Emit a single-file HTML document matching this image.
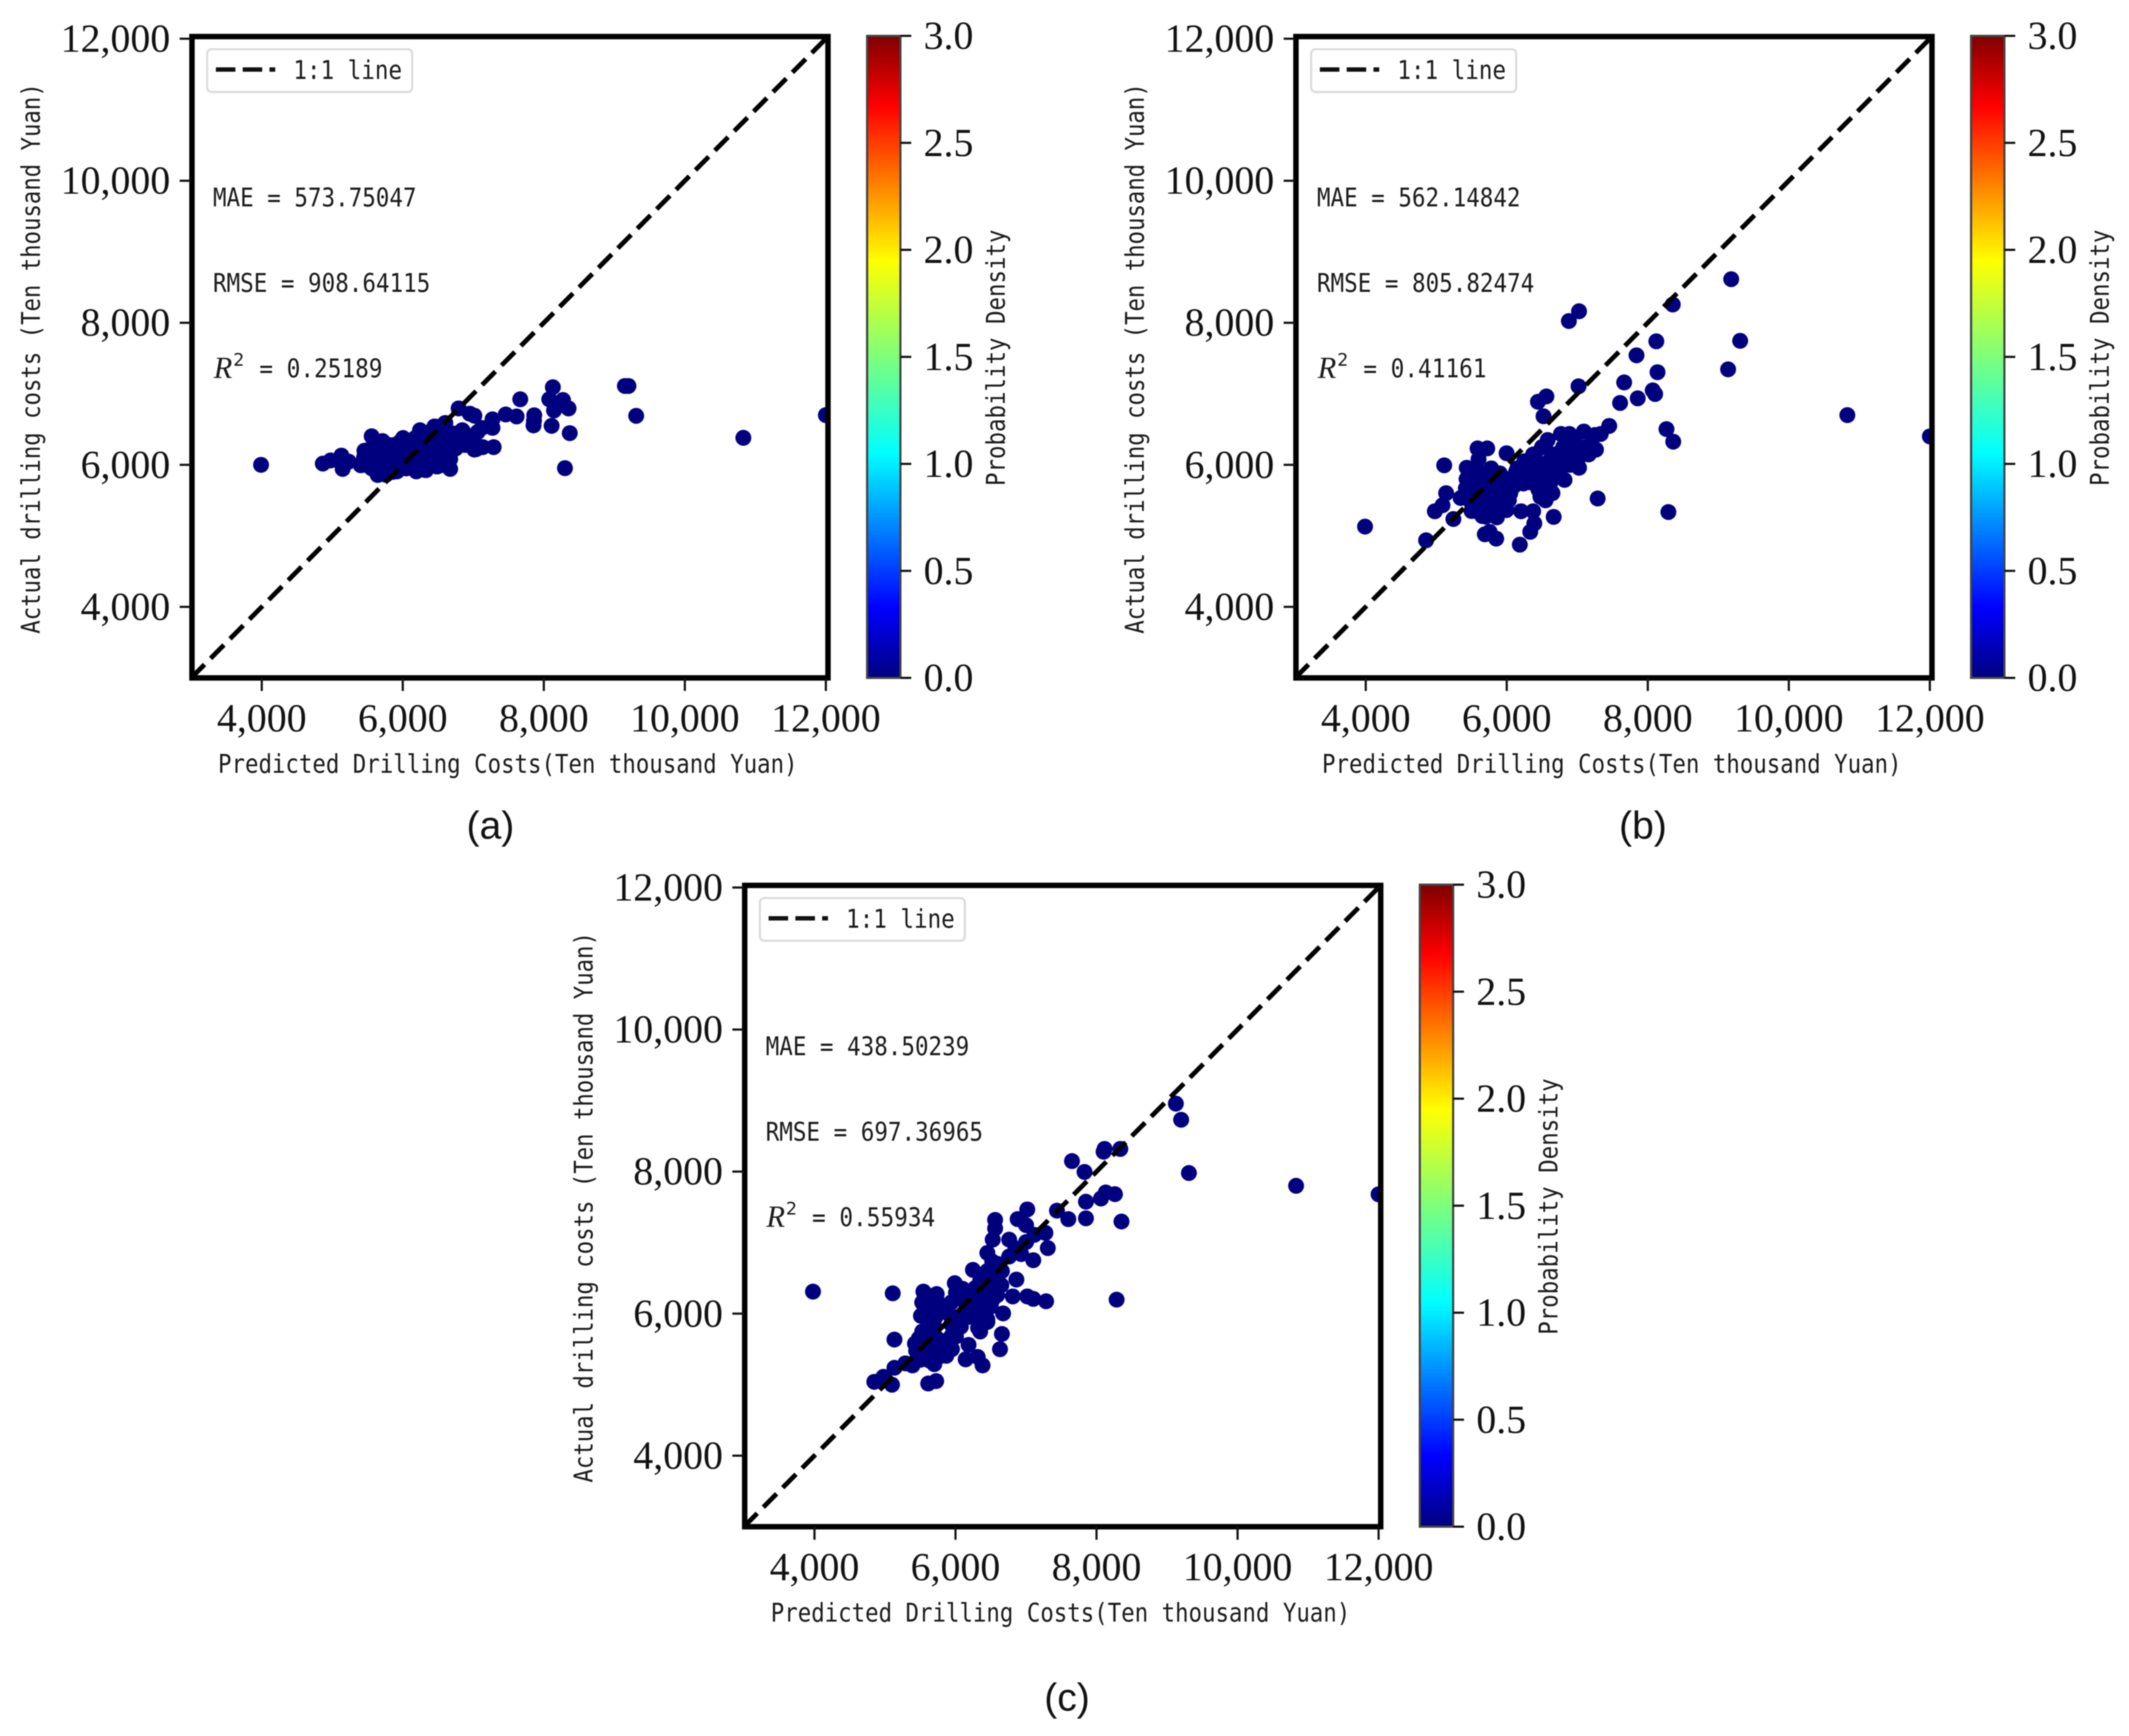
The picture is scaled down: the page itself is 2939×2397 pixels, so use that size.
<!DOCTYPE html>
<html lang="en">
<head>
<meta charset="utf-8">
<title>Predicted vs actual drilling costs</title>
<style>
html,body{margin:0;padding:0;background:#fff;}
svg{display:block;filter:blur(0.8px);}
.tick{font-family:"Liberation Serif",serif;font-size:55px;fill:#111;}
.lab{font-family:"DejaVu Sans Mono","Liberation Mono",monospace;font-size:36px;fill:#1a1a1a;}
.it{font-family:"Liberation Serif",serif;font-style:italic;font-size:42px;fill:#1a1a1a;}
.sup{font-family:"DejaVu Sans","Liberation Sans",sans-serif;font-size:24px;fill:#1a1a1a;}
.cap{font-family:"Liberation Sans",sans-serif;font-size:54px;fill:#111;}
</style>
</head>
<body>
<svg id="fig" xmlns="http://www.w3.org/2000/svg" width="2939" height="2397" viewBox="0 0 2939 2397">
<defs>
<linearGradient id="jet" x1="0" y1="1" x2="0" y2="0">
<stop offset="0" stop-color="#00007f"/><stop offset="0.11" stop-color="#0000ff"/><stop offset="0.35" stop-color="#00ffff"/><stop offset="0.5" stop-color="#7dff7a"/><stop offset="0.65" stop-color="#ffff00"/><stop offset="0.89" stop-color="#ff0000"/><stop offset="1" stop-color="#7f0000"/>
</linearGradient>
<clipPath id="plotClip"><rect x="264" y="50" width="879" height="886"/></clipPath>
</defs>
<rect x="0" y="0" width="2939" height="2397" fill="#fff"/>

<g id="panel-a" transform="translate(0,0)">
<g class="marks"></g>
<g class="ticks"></g>
<g><rect x="286" y="68" width="283" height="59" rx="6" fill="#fff" stroke="#dcdcdc" stroke-width="3"/><line x1="298" y1="96" x2="380" y2="96" stroke="#111" stroke-width="6" stroke-dasharray="27 10"/><text class="lab" x="405" y="109" textLength="150" lengthAdjust="spacingAndGlyphs">1:1 line</text></g>
<text class="lab" x="294" y="285" textLength="281" lengthAdjust="spacingAndGlyphs">MAE = 573.75047</text>
<text class="lab" x="294" y="403" textLength="300" lengthAdjust="spacingAndGlyphs">RMSE = 908.64115</text>
<text class="it" x="295" y="522">R</text><text class="sup" x="322" y="505">2</text><text class="lab" x="358" y="521" textLength="170" lengthAdjust="spacingAndGlyphs">= 0.25189</text>
<text class="lab" x="301" y="1067" textLength="800" lengthAdjust="spacingAndGlyphs">Predicted Drilling Costs(Ten thousand Yuan)</text>
<text class="lab" transform="translate(55,875) rotate(-90)" textLength="760" lengthAdjust="spacingAndGlyphs">Actual drilling costs (Ten thousand Yuan)</text>
<text class="lab" transform="translate(1387,671) rotate(-90)" textLength="354" lengthAdjust="spacingAndGlyphs">Probability Density</text>
</g>

<g id="panel-b" transform="translate(1524,0)">
<g class="marks"></g>
<g class="ticks"></g>
<g><rect x="286" y="68" width="283" height="59" rx="6" fill="#fff" stroke="#dcdcdc" stroke-width="3"/><line x1="298" y1="96" x2="380" y2="96" stroke="#111" stroke-width="6" stroke-dasharray="27 10"/><text class="lab" x="405" y="109" textLength="150" lengthAdjust="spacingAndGlyphs">1:1 line</text></g>
<text class="lab" x="294" y="285" textLength="281" lengthAdjust="spacingAndGlyphs">MAE = 562.14842</text>
<text class="lab" x="294" y="403" textLength="300" lengthAdjust="spacingAndGlyphs">RMSE = 805.82474</text>
<text class="it" x="295" y="522">R</text><text class="sup" x="322" y="505">2</text><text class="lab" x="358" y="521" textLength="170" lengthAdjust="spacingAndGlyphs">= 0.41161</text>
<text class="lab" x="301" y="1067" textLength="800" lengthAdjust="spacingAndGlyphs">Predicted Drilling Costs(Ten thousand Yuan)</text>
<text class="lab" transform="translate(55,875) rotate(-90)" textLength="760" lengthAdjust="spacingAndGlyphs">Actual drilling costs (Ten thousand Yuan)</text>
<text class="lab" transform="translate(1387,671) rotate(-90)" textLength="354" lengthAdjust="spacingAndGlyphs">Probability Density</text>
</g>

<g id="panel-c" transform="translate(763,1172)">
<g class="marks"></g>
<g class="ticks"></g>
<g><rect x="286" y="68" width="283" height="59" rx="6" fill="#fff" stroke="#dcdcdc" stroke-width="3"/><line x1="298" y1="96" x2="380" y2="96" stroke="#111" stroke-width="6" stroke-dasharray="27 10"/><text class="lab" x="405" y="109" textLength="150" lengthAdjust="spacingAndGlyphs">1:1 line</text></g>
<text class="lab" x="294" y="285" textLength="281" lengthAdjust="spacingAndGlyphs">MAE = 438.50239</text>
<text class="lab" x="294" y="403" textLength="300" lengthAdjust="spacingAndGlyphs">RMSE = 697.36965</text>
<text class="it" x="295" y="522">R</text><text class="sup" x="322" y="505">2</text><text class="lab" x="358" y="521" textLength="170" lengthAdjust="spacingAndGlyphs">= 0.55934</text>
<text class="lab" x="301" y="1067" textLength="800" lengthAdjust="spacingAndGlyphs">Predicted Drilling Costs(Ten thousand Yuan)</text>
<text class="lab" transform="translate(55,875) rotate(-90)" textLength="760" lengthAdjust="spacingAndGlyphs">Actual drilling costs (Ten thousand Yuan)</text>
<text class="lab" transform="translate(1387,671) rotate(-90)" textLength="354" lengthAdjust="spacingAndGlyphs">Probability Density</text>
</g>

<text class="cap" x="677" y="1158" text-anchor="middle">(a)</text>
<text class="cap" x="2268" y="1158" text-anchor="middle">(b)</text>
<text class="cap" x="1473" y="2362" text-anchor="middle">(c)</text>
</svg>

<script>
const NS = 'http://www.w3.org/2000/svg';

const xTickValues = [4000, 6000, 8000, 10000, 12000];
const yTickValues = [4000, 6000, 8000, 10000, 12000];
const xTickLabels = ['4,000', '6,000', '8,000', '10,000', '12,000'];
const yTickLabels = ['4,000', '6,000', '8,000', '10,000', '12,000'];
const colorbarTickValues = [0, 0.5, 1, 1.5, 2, 2.5, 3];
const colorbarTickLabels = ['0.0', '0.5', '1.0', '1.5', '2.0', '2.5', '3.0'];
const axisDomain = [3000, 12030];
const colorbarDomain = [0, 3];
const identityLine = [3000, 12030];

const predictedA = [3990,4866,4976,5130,5147,5233,5404,5456,5559,5713,6004,5644,5918,6192,6329,6484,6672,6672,6244,6449,6603,6792,7015,7272,7272,7460,7614,7864,7860,7854,8111,7666,8128,8077,8272,8145,8351,8368,8300,7289,7015,7135,6843,10830,12000,9310,9150,9200,6950,
5450,5470,5480,5520,5530,5560,5570,5600,5620,5640,5650,5680,5700,5720,5740,5760,5780,5800,5820,5840,5860,5880,5900,5920,5940,5960,5980,6000,6020,6050,6080,6100,6130,6150,6180,6200,6210,6240,6260,6290,6310,6330,6350,6380,6400,6420,6450,6470,6500,6520,6540,6570,6600,6620,6650,6700,6750,6800,6850,6900,6950,6880,7000,7060,7120,7040,
5600,5900,6050,6250,6400,6550,6700,6800,6500,6720];
const actualA = [6000,6017,6062,6130,5942,6045,5994,6198,6402,6334,6378,5857,5908,5908,5925,5976,5942,6079,6487,6538,6590,6794,6692,6640,6521,6709,6681,6698,6620,6555,6549,6923,7093,6923,6913,6766,6794,6446,5953,6249,6215,6249,6487,6380,6700,6690,7110,7110,6720,
6100,6000,6200,6060,6150,5950,6250,6100,6020,6180,5880,6300,6100,5950,6200,5860,6050,6280,5980,6150,5900,6280,6080,6200,5930,6320,6020,6120,6350,6220,6060,6280,6000,6180,6380,6100,5920,6440,6240,6020,5930,6350,6150,6460,6260,6000,6540,6130,6350,5990,6240,6560,6420,6130,6300,6350,6230,6380,6480,6400,6330,6280,6400,6460,6520,6220,
5950,6000,5950,6150,6100,6150,6200,6300,6450,6440];

const predictedB = [3990,9183,8354,7025,6881,9310,8121,7840,8138,9139,7665,7018,8070,8104,7857,7607,6562,6442,6521,7453,8265,8361,7289,8292,6665,6185,5850,5689,5757,6333,6391,6374,6203,5243,4980,5089,5140,5113,4856,10830,12000,
5586,5723,5997,5432,5430,5420,5346,5600,5780,5550,5640,5520,5700,5620,5560,5700,5850,5950,5900,5780,6030,6100,6000,5900,6200,6150,6300,6300,6400,6500,6350,6450,6550,6600,6819,6648,6477,7025,7265,7333,7093,6888,6768,6580,6956,7059,7162,6853,6545,6374,6545,6751,6340,6066,6237,6408,6614,6134,6014,5997,5689,5586,5860,5654,5500,6700,6800,6950,7200,7250,
5500,5650,5750,5850,5950,6050,6500,6650,6800,6900,7000,6700,6600,6450,6150,6250,5850,5720,5600,5480,5520,5680,5780,5880,5760,5500];
const actualB = [5130,8614,8257,8162,8025,7746,7739,7542,7304,7344,7160,7106,7048,6997,6936,6871,6963,6888,6684,6548,6503,6326,5526,5335,5267,4876,4961,5022,5056,5056,5175,5346,5346,5237,5346,5431,5601,5993,4937,6700,6400,
6231,6231,6163,5959,5800,5670,5533,6080,5950,5900,5750,5620,5650,5480,5350,5270,5270,5400,5600,5400,5500,5700,5800,5880,5850,5950,5900,6020,6150,6250,5750,5650,5500,5700,5788,5601,5550,5959,6214,6435,6469,6435,6435,6350,6146,6248,6146,6112,6248,6146,5907,5907,5907,5737,5737,5737,5737,5907,5533,5363,5499,5397,5260,5278,5465,6050,6250,6320,6300,6420,
5700,5600,5500,5650,5700,5600,5800,5850,6000,6000,6050,6150,6050,6000,5750,6050,5450,5380,5600,5780,5950,5880,5760,5350,5320,5350];

const predictedC = [3979,5110,5134,8285,8354,7850,7600,7850,8063,8131,8261,7439,7275,7309,7103,7018,6881,7001,6761,6562,6562,6528,6452,6521,6247,6864,5990,6675,6658,6631,6384,6315,6185,6144,7652,7830,8114,8100,8337,7285,7103,7018,6812,6350,6452,5613,5726,5099,4849,4979,5134,5390,5545,5733,9125,9200,9310,10830,12000,
5528,5510,5562,5664,5613,5528,5716,5664,5425,5442,5528,5630,5699,5802,5870,5767,5836,5939,6007,5939,6076,6041,6178,6281,6452,6384,6247,6110,5939,6007,6144,6281,6350,6487,6590,6658,6521,6590,6418,6761,6932,7001,7120,5560,5600,5640,5480,5700,5780,5900,6100,6200,6320,6420,6550,6650,6850,5290,
5600,5640,5740,5950,6050,6300,6200,6500,6450,6600,5700,5600,5500];
const actualC = [6310,6286,5635,6197,7297,7342,7331,7576,7621,7706,7682,7450,7137,6923,6752,7467,7331,7246,7042,7320,7200,7042,6855,6735,6616,6480,6429,6003,5714,5499,5271,5390,5560,5356,8148,7995,8319,8280,8319,6174,6208,6242,6242,5748,5884,5016,5050,4999,5040,5111,5237,5271,6310,6276,8957,8730,7980,7800,7680,
6157,5969,6054,6122,5884,5748,5952,5748,5578,5476,5578,5339,5288,5407,5407,5510,5612,5680,5680,5850,5816,5952,5952,5952,5918,6054,6088,6191,6157,6293,6293,6361,6463,6361,6463,6599,6191,6259,6259,6804,6838,7008,7110,6200,6060,5830,5650,5820,6130,6000,6350,6100,5800,6050,6550,6400,6920,5300,
5950,6250,5650,5500,5800,6200,6300,6100,6600,6700,5500,5450,5350];

const panelIds = ['a', 'b', 'c'];
const predictedSets = [predictedA, predictedB, predictedC];
const actualSets = [actualA, actualB, actualC];

function xScale(v) { return 264 + (v - axisDomain[0]) / (axisDomain[1] - axisDomain[0]) * 879; }
function yScale(v) { return 936 - (v - axisDomain[0]) / (axisDomain[1] - axisDomain[0]) * 885.5; }
function cScale(v) { return 936 - (v - colorbarDomain[0]) / (colorbarDomain[1] - colorbarDomain[0]) * 886.5; }

function line(parent, x1, y1, x2, y2, stroke, width) {
  const el = document.createElementNS(NS, 'line');
  el.setAttribute('x1', x1); el.setAttribute('y1', y1);
  el.setAttribute('x2', x2); el.setAttribute('y2', y2);
  el.setAttribute('stroke', stroke); el.setAttribute('stroke-width', width);
  parent.appendChild(el);
  return el;
}
function label(parent, x, y, str, anchor) {
  const el = document.createElementNS(NS, 'text');
  el.setAttribute('class', 'tick');
  el.setAttribute('x', x); el.setAttribute('y', y);
  el.setAttribute('text-anchor', anchor);
  el.textContent = str;
  parent.appendChild(el);
  return el;
}

panelIds.forEach(function (id, p) {
  const root = document.getElementById('panel-' + id);
  const marks = root.querySelector('.marks');
  const ticks = root.querySelector('.ticks');

  const clip = document.createElementNS(NS, 'g');
  clip.setAttribute('clip-path', 'url(#plotClip)');
  
  
  marks.appendChild(clip);

  predictedSets[p].forEach(function (v, i) {
    const c = document.createElementNS(NS, 'circle');
    c.setAttribute('cx', xScale(v));
    c.setAttribute('cy', yScale(actualSets[p][i]));
    c.setAttribute('r', 11);
    c.setAttribute('fill', '#00007f');
    
    
    clip.appendChild(c);
  });

  const diag = line(clip, xScale(identityLine[0]), yScale(identityLine[0]), xScale(identityLine[1]), yScale(identityLine[1]), '#000', 6.5);
  diag.setAttribute('stroke-dasharray', '26 12');
  
  

  const frame = document.createElementNS(NS, 'rect');
  frame.setAttribute('x', 265); frame.setAttribute('y', 50.5);
  frame.setAttribute('width', 878); frame.setAttribute('height', 885.5);
  frame.setAttribute('fill', 'none'); frame.setAttribute('stroke', '#000');
  frame.setAttribute('stroke-width', 7.5);
  
  
  ticks.appendChild(frame);

  xTickValues.forEach(function (v, i) {
    const t = line(ticks, xScale(v), 936, xScale(v), 954, '#111', 3);
    
    
    const l = label(ticks, xScale(v), 1010, xTickLabels[i], 'middle');
    
    
  });
  yTickValues.forEach(function (v, i) {
    const t = line(ticks, 248, yScale(v), 264, yScale(v), '#111', 3);
    
    
    const l = label(ticks, 235, yScale(v) + 18, yTickLabels[i], 'end');
    
    
  });

  const bar = document.createElementNS(NS, 'rect');
  bar.setAttribute('x', 1197); bar.setAttribute('y', cScale(colorbarDomain[1]));
  bar.setAttribute('width', 46); bar.setAttribute('height', cScale(colorbarDomain[0]) - cScale(colorbarDomain[1]));
  bar.setAttribute('fill', 'url(#jet)'); bar.setAttribute('stroke', '#444'); bar.setAttribute('stroke-width', 3);
  
  
  ticks.appendChild(bar);

  colorbarTickValues.forEach(function (v, i) {
    const t = line(ticks, 1243, cScale(v), 1258, cScale(v), '#111', 3);
    
    
    const l = label(ticks, 1275, cScale(v) + 18, colorbarTickLabels[i], 'start');
    
    
  });
});
</script>
</body>
</html>
